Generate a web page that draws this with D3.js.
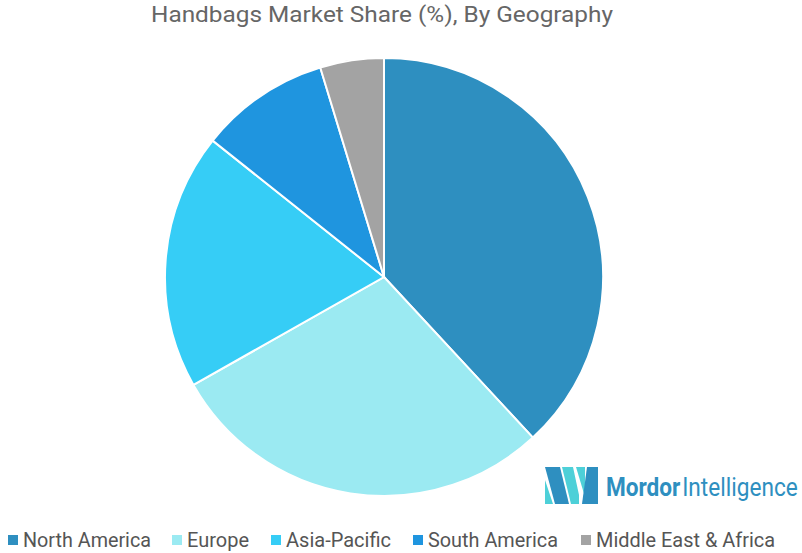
<!DOCTYPE html>
<html>
<head>
<meta charset="utf-8">
<script src="https://cdn.jsdelivr.net/npm/d3@7"></script>
<style>
  body { margin: 0; background: #fff; }
  svg text { font-family: Roboto, "Open Sans", sans-serif; }
</style>
</head>
<body>
<svg id="chart" width="802" height="553"></svg>
<script>
// market share by region
var regions = ["North America", "Europe", "Asia-Pacific", "South America", "Middle East & Africa"];
var shares = [38.1, 28.7, 18.9, 9.6, 4.7];
var colors = ["#2e8fc0", "#9beaf2", "#36cdf6", "#1f95df", "#a3a3a3"];

var svg = d3.select("svg#chart"),
    width = +svg.attr("width"),
    height = +svg.attr("height");

var center = { x: 384, y: 277 };
var radius = 219;

//Title
svg.append("text")
    .attr("x", 382)
    .attr("y", 22)
    .attr("text-anchor", "middle")
    .attr("fill", "#666")
    .style("font-size", "22px")
    .attr("textLength", 462)
    .attr("lengthAdjust", "spacingAndGlyphs")
    .text("Handbags Market Share (%), By Geography");

//Pie
var pie = d3.pie().sort(null).value(function (d) { return d; });
var arc = d3.arc().innerRadius(0).outerRadius(radius);
var color = d3.scaleOrdinal().domain(regions).range(colors);

var g = svg.append("g")
    .attr("transform", "translate(" + center.x + "," + center.y + ")");

g.selectAll("path")
  .data(pie(shares))
  .enter().append("path")
    .attr("d", arc)
    .attr("fill", function (d, i) { return color(regions[i]); })
    .attr("stroke", "#fff")
    .attr("stroke-width", 2);

//Legend
var legendX = [8, 172, 271, 413, 581];
var legendW = [128, 62, 105, 130, 179];
var legend = svg.append("g").attr("class", "legend");
var items = legend.selectAll("g")
  .data(regions)
  .enter().append("g")
    .attr("transform", function (d, i) { return "translate(" + legendX[i] + ",540)"; });
items.append("rect")
    .attr("x", 0).attr("y", -5)
    .attr("width", 10).attr("height", 10)
    .attr("fill", function (d) { return color(d); });
items.append("text")
    .attr("x", 15)
    .attr("y", 7)
    .attr("fill", "#555")
    .style("font-size", "20px")
    .attr("textLength", function (d, i) { return legendW[i]; })
    .attr("lengthAdjust", "spacingAndGlyphs")
    .text(function (d) { return d; });

//Mordor Intelligence logo
var dark = "#2e8fc0", teal = "#4dd0d8";
var logo = svg.append("g").attr("transform", "translate(545,467)");
logo.append("polygon").attr("points", "0,0 15,0 24,37 10,37").attr("fill", dark);
logo.append("polygon").attr("points", "0,13 0,37 8,37").attr("fill", teal);
logo.append("polygon").attr("points", "17,0 28,0 34,28 34,37 26,37").attr("fill", teal);
logo.append("polygon").attr("points", "31,0 40,0 40,30").attr("fill", teal);
logo.append("polygon").attr("points", "37,37 42,0 53,0 53,37").attr("fill", dark);
//squeeze the brand text horizontally so it fits like the condensed original
var brandG = logo.append("g");
var brand = brandG.append("text")
    .attr("x", 0).attr("y", 0)
    .attr("fill", dark)
    .style("font-size", "25px");
brand.append("tspan").style("font-weight", "bold").text("Mordor");
brand.append("tspan").attr("dx", 2).text("Intelligence");
var sx = 190 / brand.node().getComputedTextLength();
brandG.attr("transform", "translate(61,29) scale(" + sx + ",1)");
</script>
</body>
</html>
